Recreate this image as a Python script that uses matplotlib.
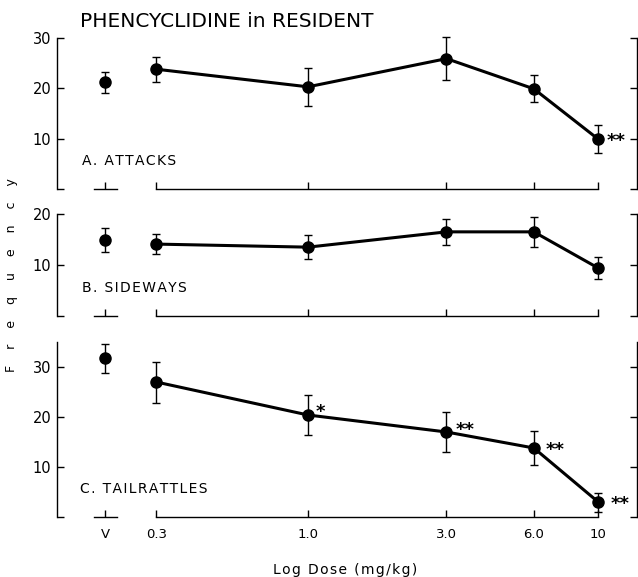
import matplotlib
matplotlib.use("Agg")
import matplotlib.pyplot as plt

# doses (mg/kg); vehicle drawn at its own spot left of the dose axis
dose = [0.3, 1.0, 3.0, 6.0, 10.0]
dose_labels = ["0.3", "1.0", "3.0", "6.0", "10"]
vehicle_x = 0.2

attacks_v, attacks_v_err = 21.2, 2.1
attacks = [23.8, 20.3, 25.9, 19.9, 9.9]
attacks_err = [2.5, 3.8, 4.2, 2.7, 2.8]
attacks_sig = ["", "", "", "", "**"]

sideways_v, sideways_v_err = 14.9, 2.3
sideways = [14.1, 13.5, 16.5, 16.5, 9.4]
sideways_err = [2.0, 2.3, 2.6, 3.0, 2.2]
sideways_sig = ["", "", "", "", ""]

tail_v, tail_v_err = 31.8, 2.9
tail = [27.0, 20.4, 17.0, 13.8, 3.0]
tail_err = [4.1, 4.0, 4.0, 3.4, 1.9]
tail_sig = ["", "*", "**", "**", "**"]

W, H = 638, 577
fig = plt.figure(figsize=(W / 100, H / 100), dpi=100)
plt.rcParams["font.family"] = "DejaVu Sans"

XMIN, XMAX = 0.1365, 13.6


def spaced(s, gap="\u200a"):
    return gap.join(s)


def panel(top_px, bot_px, ymax, yticks, v, v_err, vals, errs, sig, star_off, show_x):
    ax = fig.add_axes([57 / W, 1 - bot_px / H, (637 - 57) / W, (bot_px - top_px) / H])
    ax.set_xscale("log")
    ax.set_xlim(XMIN, XMAX)
    ax.set_ylim(0, ymax)

    ax.errorbar(dose, vals, yerr=errs, fmt="o-", color="black", lw=2.2, ms=8,
                elinewidth=1, capsize=3.2, capthick=1, clip_on=False)
    ax.errorbar([vehicle_x], [v], yerr=[v_err], fmt="o", color="black", ms=8,
                elinewidth=1, capsize=3.2, capthick=1, clip_on=False)

    for x, y, s, off in zip(dose, vals, sig, star_off):
        if s:
            ax.annotate(s, (x, y), xytext=off, textcoords="offset pixels",
                        ha="left", va="center", fontsize=13, fontweight="bold")

    ax.spines["top"].set_visible(False)
    ax.spines["bottom"].set_bounds(dose[0], dose[-1])
    # short separate baseline under the vehicle point
    ax.plot([vehicle_x / 1.09, vehicle_x * 1.1], [0, 0], color="black", lw=1, clip_on=False)
    for sp in ax.spines.values():
        sp.set_linewidth(1)

    ax.set_yticks(yticks)
    ax.set_yticklabels([""] + [str(t) for t in yticks[1:]])
    ax.tick_params(axis="y", direction="in", length=5, width=1, right=True,
                   labelsize=10.5, pad=4)
    ax.set_xticks([vehicle_x] + dose)
    ax.minorticks_off()
    if show_x:
        ax.set_xticklabels(["V"] + dose_labels)
    else:
        ax.set_xticklabels([])
    ax.tick_params(axis="x", direction="in", length=5, width=1, labelsize=9.5, pad=8)
    return ax


star_a = [(0, 0)] * 4 + [(8, -2)]
star_c = [(0, 0), (8, 3), (9, 2), (12, -2), (12, -2)]

ax_a = panel(38, 189, 30, [0, 10, 20, 30], attacks_v, attacks_v_err,
             attacks, attacks_err, attacks_sig, star_a, False)
ax_b = panel(214, 316, 20, [0, 10, 20], sideways_v, sideways_v_err,
             sideways, sideways_err, sideways_sig, star_a, False)
ax_c = panel(342, 517, 35, [0, 10, 20, 30], tail_v, tail_v_err,
             tail, tail_err, tail_sig, star_c, True)

# panel names
fig.text(82 / W, 1 - 165 / H, spaced("A. ATTACKS"), fontsize=10, va="baseline")
fig.text(82 / W, 1 - 292 / H, spaced("B. SIDEWAYS"), fontsize=10, va="baseline")
fig.text(80 / W, 1 - 493 / H, spaced("C. TAILRATTLES"), fontsize=10, va="baseline")

fig.text(80 / W, 1 - 27 / H, "PHENCYCLIDINE in RESIDENT", fontsize=14.5, va="baseline")
fig.text(345 / W, 1 - 570 / H, spaced("Log Dose (mg/kg)"), fontsize=10,
         ha="center", va="center")
fig.text(12 / W, 1 - 275 / H, "F    r    e    q    u    e    n    c    y", fontsize=9,
         rotation=90, ha="center", va="center")

fig.savefig("out.png", dpi=100)
